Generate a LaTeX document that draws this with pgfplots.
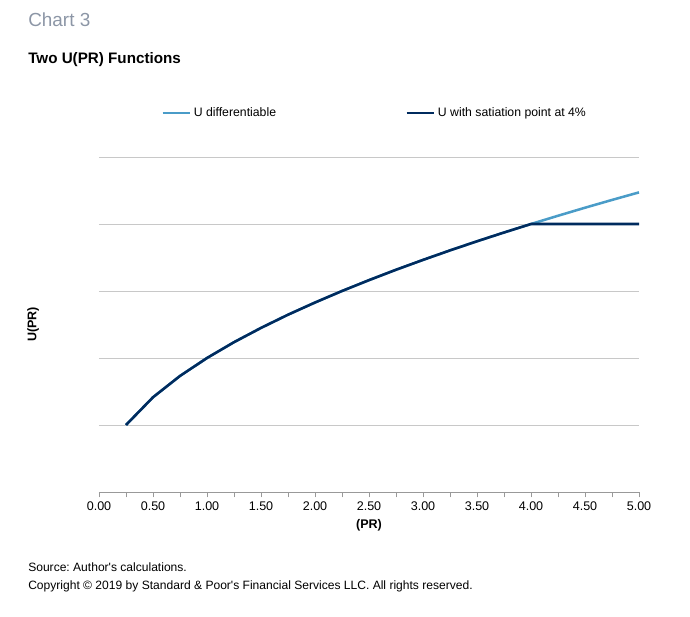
\documentclass[border=0pt]{standalone}
\usepackage{pgfplots}
\pgfplotsset{compat=1.18}
\usepackage{fontspec}
\setmainfont{Liberation Sans}
\frenchspacing
\definecolor{lightblue}{RGB}{74,156,200}
\definecolor{navy}{RGB}{0,43,94}
\definecolor{gridgray}{RGB}{200,200,200}
\definecolor{titlegray}{RGB}{140,150,166}
\begin{document}
\begin{tikzpicture}[x=0.75pt,y=0.75pt]
\path (0,0) rectangle (690,617);
\coordinate (origin) at (99,125);
\node[anchor=west,inner sep=0pt,text=titlegray,font=\fontsize{14.2}{16}\selectfont] at (28,597) {Chart 3};
\node[anchor=west,inner sep=0pt,font=\fontsize{11.4}{13}\selectfont\bfseries] at (28,557) {Two U(PR) Functions};
\node[anchor=west,inner sep=0pt,font=\fontsize{9.05}{10}\selectfont] at (28,50) {Source: Author\textquotesingle s calculations.};
\node[anchor=west,inner sep=0pt,font=\fontsize{9.05}{10}\selectfont] at (28,31) {Copyright © 2019 by Standard \& Poor\textquotesingle s Financial Services LLC. All rights reserved.};
\begin{axis}[
    at={(origin)}, anchor=south west,
    scale only axis,
    width=405pt, height=251.25pt,
    xmin=0, xmax=5, ymin=0, ymax=5,
    axis x line=bottom, axis y line=left,
    x axis line style={draw=gray!80,-},
    y axis line style={draw=none},
    xtick={0,0.5,...,5},
    minor x tick num=1,
    xtick align=outside,
    major tick length=4pt, minor tick length=4pt,
    xtick style={draw=gray!80},
    minor x tick style={draw=gray!80},
    ytick={1,2,3,4,5},
    yticklabels={},
    ytick style={draw=none},
    ymajorgrids,
    major grid style={draw=gridgray, line width=0.6pt},
    tick label style={font=\fontsize{9.4}{11}\selectfont},
    /pgf/number format/assume math mode=true,
    xticklabel style={/pgf/number format/.cd, fixed, fixed zerofill, precision=2},
    xlabel={\bfseries (PR)},
    ylabel={\bfseries U(PR)},
    label style={font=\fontsize{9.4}{11}\selectfont},
    xlabel style={at={(axis description cs:0.5,-0.1)}, anchor=center},
    ylabel style={at={(axis description cs:-0.122,0.5)}, anchor=center},
    legend columns=2,
    legend style={at={(axis description cs:0.511,1.131)}, anchor=center, draw=none,
        font=\fontsize{9.2}{11}\selectfont,
        /tikz/every even column/.append style={column sep=95pt}},
    legend image code/.code={\draw[#1] (0pt,0pt) -- (20.5pt,0pt);},
    clip=false,
]
\addplot[lightblue, line width=1.9pt] coordinates {
(0.25,1.000) (0.50,1.414) (0.75,1.732) (1.00,2.000) (1.25,2.236)
(1.50,2.449) (1.75,2.646) (2.00,2.828) (2.25,3.000) (2.50,3.162)
(2.75,3.317) (3.00,3.464) (3.25,3.606) (3.50,3.742) (3.75,3.873)
(4.00,4.000) (4.25,4.123) (4.50,4.243) (4.75,4.359) (5.00,4.472)
};
\addlegendentry{U differentiable}
\addplot[navy, line width=1.9pt] coordinates {
(0.25,1.000) (0.50,1.414) (0.75,1.732) (1.00,2.000) (1.25,2.236)
(1.50,2.449) (1.75,2.646) (2.00,2.828) (2.25,3.000) (2.50,3.162)
(2.75,3.317) (3.00,3.464) (3.25,3.606) (3.50,3.742) (3.75,3.873)
(4.00,4.000) (4.25,4.000) (4.50,4.000) (4.75,4.000) (5.00,4.000)
};
\addlegendentry{U with satiation point at 4\%}
\end{axis}
\end{tikzpicture}
\end{document}
